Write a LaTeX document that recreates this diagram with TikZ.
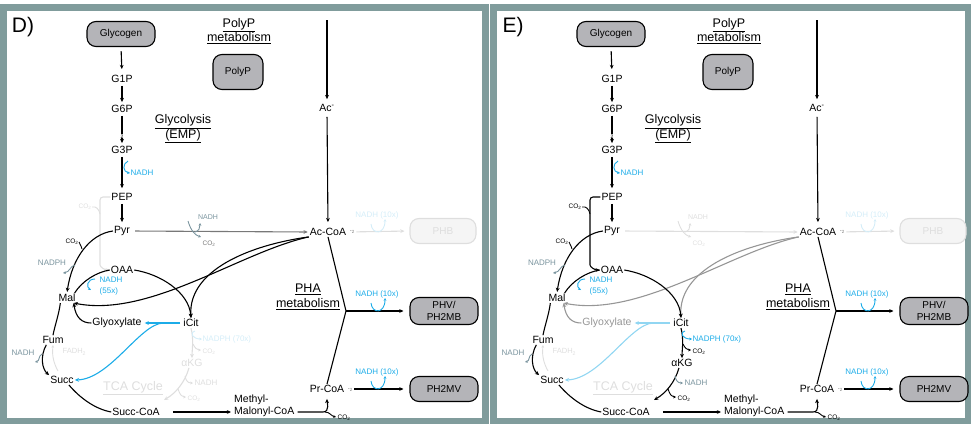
\documentclass[tikz,border=0pt]{standalone}
\usepackage{fontspec}
\setmainfont{Liberation Sans}
\usetikzlibrary{arrows.meta}

\definecolor{framecol}{RGB}{128,156,156}
\definecolor{boxfill}{RGB}{180,180,184}
\definecolor{cyanblue}{RGB}{28,172,232}
\definecolor{paleblue}{RGB}{145,214,242}
\definecolor{fadeblue}{RGB}{212,237,248}
\definecolor{fade}{RGB}{222,222,222}
\definecolor{slate}{RGB}{122,148,158}
\definecolor{midgrey}{RGB}{120,120,120}
\definecolor{shuntgrey}{RGB}{150,150,150}

\newcommand\setfs[1]{\fontsize{#1}{#1}\selectfont}
\newcommand\cotwo{CO\textsubscript{2}}
\newcommand\twofold{{\setfs{6}-\raisebox{-1pt}{\setfs{4.5}2}}}

\tikzset{
  met/.style={inner sep=1pt, font=\setfs{10.5}},
  pool/.style={draw=black, line width=1.1pt, fill=boxfill, rounded corners=9pt,
    font=\fontsize{10}{12}\selectfont, align=center, inner sep=0pt},
  ghostpool/.style={pool, draw=fade, fill=black!4, text=fade},
  hdr/.style={font=\fontsize{12.5}{14.5}\selectfont, align=center, inner sep=0pt},
  cof/.style={font=\fontsize{8}{10.5}\selectfont, inner sep=0.5pt},
  gas/.style={font=\setfs{6.5}, inner sep=0.5pt},
  stoich/.style={font=\setfs{5}, inner sep=0.3pt},
  flux/.style={line width=1.1pt},
  side/.style={line width=0.9pt},
  tip/.style={-{Stealth[length=4.2pt,width=3.8pt]}},
  stip/.style={-{Stealth[length=2.8pt,width=2.8pt]}},
}

% One metabolic panel; the colour of each optional route is set by the
% surrounding scope through the styles pepc, pyrac, pyracside, pyracgas,
% shunt, glyline, icd, icdcof, kgd and kgdcof.
\newcommand\pathwaypanel[1]{%
  \node[font=\setfs{21}, inner sep=0pt] (tag) at (23,27) {#1)};
  % storage pools
  \node[pool, minimum width=68pt, minimum height=25pt] (Glycogen) at (121,34) {Glycogen};
  \node[pool, minimum width=50pt, minimum height=35pt] (PolyP) at (238,72) {PolyP};
  \node[ghostpool, minimum width=66pt, minimum height=25pt] (PHB) at (443,231) {PHB};
  \node[pool, minimum width=68pt, minimum height=27pt] (PHV) at (444,311) {PHV/\\PH2MB};
  \node[pool, minimum width=68pt, minimum height=25pt] (PHtwoMV) at (444,389) {PH2MV};
  % section headings
  \node[hdr] (hPolyP) at (239,31) {\underline{PolyP}\\\underline{metabolism}};
  \node[hdr] (hGly) at (183,129) {\underline{Glycolysis}\\\underline{(EMP)}};
  \node[hdr] (hPHA) at (308,297) {\underline{PHA}\\\underline{metabolism}};
  \node[hdr, text=fade] (hTCA) at (133,388) {\underline{TCA Cycle}};
  % metabolites
  \node[met] (G1P) at (122,79) {G1P};
  \node[met] (G6P) at (122,109) {G6P};
  \node[met] (G3P) at (122,150) {G3P};
  \node[met] (PEP) at (122,197) {PEP};
  \node[met] (Pyr) at (122,231) {Pyr};
  \node[met] (OAA) at (122,270) {OAA};
  \node[met] (Mal) at (67,298) {Mal};
  \node[met] (Fum) at (53,340) {Fum};
  \node[met] (Succ) at (62,380) {Succ};
  \node[met] (SuccCoA) at (136,412) {Succ-CoA};
  \node[met] (iCit) at (191,323) {iCit};
  \node[met,icd] (aKG) at (192,363) {αKG};
  \node[met,shunt] (Glyox) at (117,323) {Glyoxylate};
  \node[met,anchor=west] (MMa) at (233,400) {Methyl-};
  \node[met,anchor=west] (MMb) at (233,412) {Malonyl-CoA};
  \node[met] (Ac) at (327,108) {Ac\textsuperscript{-}};
  \node[met] (AcCoA) at (328,232) {Ac-CoA};
  \node[met] (PrCoA) at (327,389) {Pr-CoA};
  % free ends and branch points
  \coordinate (AcTop) at (327,20);
  \coordinate (J) at (346,311);
  \coordinate (glyfork) at (163,323);
  \coordinate (kgEnd) at (164,400);

  % faint or optional routes first, so solid routes lie on top
  \draw[flux,pepc,tip,rounded corners=3pt] (PEP.west) -- (100,197) -- (100,262) to[out=-90,in=180] (OAA.west);
  \node[gas,pepc] (co2PEPC) at (85,207) {\cotwo};
  \draw[side,pepc] (co2PEPC.east) .. controls (96,206) and (99,209) .. (100,214);

  \draw[flux,pyrac,tip,shorten <=4pt,shorten >=1pt] (Pyr.east) -- (AcCoA.west);
  \draw[side,pyracside,stip] (188,221) .. controls (191,231) and (195,235) .. (201,237);
  \draw[side,pyracside,stip] (195,232) .. controls (199,231) and (200,228) .. (200,223);
  \node[cof,pyracside,font=\setfs{7}] (nadhPDH) at (208,217) {NADH};
  \node[gas,pyracgas] (co2PDH) at (209,244) {\cotwo};

  \node[stoich,midgrey] (stAc) at (352,232) {\twofold};
  \draw[flux,fade,tip,shorten <=9pt,shorten >=5pt] (AcCoA.east) -- (PHB.west);
  \draw[side,fadeblue,stip] (371,224) .. controls (372,235) and (385,235) .. (385,219);
  \node[cof,fadeblue] (nadhPHB) at (377,215) {NADH (10x)};

  \draw[flux,shunt,tip] (AcCoA.south west) .. controls (250,245) and (188,270) .. (iCit.north);
  \draw[flux,shunt,tip] (AcCoA.south west) .. controls (240,252) and (150,318) .. ([xshift=-3pt]Mal.south east);
  \draw[flux,shunt,tip] (Glyox.west) .. controls (82,323) and (76,318) .. ([xshift=-3pt]Mal.south east);

  \draw[flux,icd,tip] (iCit.south) .. controls (194,340) and (192,350) .. (aKG.north);
  \draw[side,icdcof,stip] (195,331) .. controls (189,333) and (193,339) .. (202,339);
  \node[cof,icdcof,anchor=west] (nadphICD) at (202,339) {NADPH (70x)};
  \draw[side,icd,stip] (193,344) .. controls (195,348) and (197,350) .. (201,350);
  \node[gas,icd,anchor=west] (co2ICD) at (202,352) {\cotwo};

  \draw[flux,kgd,tip] ([xshift=-3pt]aKG.south) .. controls (185,382) and (176,393) .. (kgEnd);
  \draw[side,kgdcof,stip] (185,376) .. controls (186,381) and (188,383) .. (193,383);
  \node[cof,kgdcof,anchor=west] (nadhKGD) at (194,383) {NADH};
  \draw[side,kgd,stip] (178,389) .. controls (180,395) and (182,397) .. (186,397);
  \node[gas,kgd,anchor=west] (co2KGD) at (187,399) {\cotwo};

  % glycolysis
  \draw[flux,tip,shorten <=4pt,shorten >=5pt] (Glycogen.south) -- (G1P.north);
  \draw[flux,tip,shorten <=2pt,shorten >=2pt] (G1P.south) -- (G6P.north);
  \draw[flux,tip,shorten <=2pt,shorten >=2pt] (G6P.south) -- node[stoich,pos=0.72,fill=white] (stG3P) {2} (G3P.north);
  \draw[flux,tip,shorten <=2pt,shorten >=4pt] (G3P.south) -- (PEP.north);
  \draw[side,cyanblue,stip] (128,161) .. controls (122,164) and (123,172) .. (130,173);
  \node[cof,cyanblue,anchor=west] (nadhEMP) at (130,173) {NADH};
  \draw[flux,tip,shorten <=2pt,shorten >=3pt] (PEP.south) -- (Pyr.north);

  % anaplerosis around pyruvate
  \draw[flux,tip,shorten >=1pt] (Pyr.west) .. controls (90,234) and (72,258) .. (Mal.north);
  \node[gas] (co2PC) at (72,242) {\cotwo};
  \draw[side] (co2PC.east) .. controls (79,243) and (81,245) .. (82,249);
  \draw[side,slate,stip] (75,265) .. controls (70,266) and (70,272) .. (63,273);
  \node[cof,slate] (nadphME) at (52,263) {NADPH};

  % TCA cycle and glyoxylate shunt
  \draw[flux] (OAA.west) .. controls (97,272) and (82,281) .. ([xshift=-2pt]Mal.north east);
  \draw[side,cyanblue,stip] (95,279) .. controls (87,279) and (86,287) .. (91,290);
  \node[cof,cyanblue,anchor=west,align=left] (nadhMDH) at (99,286) {NADH\\(55x)};
  \draw[flux,tip] (OAA.east) .. controls (160,274) and (189,292) .. (iCit.north);
  \draw[flux,glyline,tip,shorten <=2pt,shorten >=2pt] (iCit.west) -- (Glyox.east);
  \draw[flux,glyline,tip] (glyfork) .. controls (140,324) and (110,379) .. (Succ.east);
  \draw[flux] ([xshift=3pt]Mal.south west) .. controls (59,314) and (55,325) .. (Fum.north);
  \draw[side,fade,stip] (58,371) .. controls (53,362) and (52,354) .. (53,345);
  \node[gas,fade,anchor=west,font=\setfs{7.5}] (fadh) at (62,352) {FADH\textsubscript{2}};
  \draw[flux,tip] ([xshift=5pt]Fum.south west) .. controls (40,356) and (42,369) .. (Succ.north west);
  \draw[side,slate,stip] (42,354) .. controls (38,356) and (40,361) .. (35,362);
  \node[cof,slate] (nadhFum) at (23,353) {NADH};
  \draw[flux] ([xshift=-6pt]Succ.south east) .. controls (80,398) and (95,409) .. (SuccCoA.west);
  \draw[flux,tip,shorten <=12pt,shorten >=2pt] (SuccCoA.east) -- (MMb.west);

  % propionyl-CoA supply
  \draw[flux,tip,shorten <=2pt,shorten >=5pt] (MMb.east) -- (323,412) to[out=0,in=-90] (PrCoA.south);
  \draw[side,stip] (325,412) .. controls (330,412) and (331,416) .. (336,417);
  \node[gas,anchor=west] (co2MM) at (337,418) {\cotwo};

  % acetate uptake and PHA synthesis
  \draw[flux,tip,shorten >=4pt] (AcTop) -- (Ac.north);
  \draw[flux,tip,shorten <=4pt,shorten >=5pt] (Ac.south) -- (AcCoA.north);
  \draw[flux] (AcCoA.south) -- (J) -- (PrCoA.north);
  \draw[flux,tip,shorten >=6pt] (J) -- (PHV.west);
  \draw[side,cyanblue,stip] (371,303) .. controls (372,314) and (385,314) .. (385,298);
  \node[cof,cyanblue] (nadhPHV) at (377,294) {NADH (10x)};
  \node[stoich,midgrey] (stPr) at (350,390) {\twofold};
  \draw[flux,tip,shorten <=9pt,shorten >=6pt] (PrCoA.east) -- (PHtwoMV.west);
  \draw[side,cyanblue,stip] (371,381) .. controls (372,392) and (385,392) .. (385,376);
  \node[cof,cyanblue] (nadhPH2MV) at (377,372) {NADH (10x)};
}

\begin{document}
\begin{tikzpicture}[x=1pt,y=-1pt]
  \useasboundingbox (0,0) rectangle (971,431);
  % panel frames
  \draw[framecol, line width=6.5pt] (3.25,7.5) rectangle (485.5,421);
  \draw[framecol, line width=6.5pt] (493.25,7.5) rectangle (967.75,421);

  \begin{scope}[name prefix=D-,
    pepc/.style={color=fade},
    pyrac/.style={color=midgrey},
    pyracside/.style={color=slate},
    pyracgas/.style={color=midgrey},
    shunt/.style={color=black},
    glyline/.style={color=cyanblue},
    icd/.style={color=fade},
    icdcof/.style={color=fadeblue},
    kgd/.style={color=fade},
    kgdcof/.style={color=fade}]
    \pathwaypanel{D}
  \end{scope}

  \begin{scope}[xshift=490pt, name prefix=E-,
    pepc/.style={color=black},
    pyrac/.style={color=fade},
    pyracside/.style={color=fade},
    pyracgas/.style={color=fade},
    shunt/.style={color=shuntgrey},
    glyline/.style={color=paleblue},
    icd/.style={color=black},
    icdcof/.style={color=cyanblue},
    kgd/.style={color=black},
    kgdcof/.style={color=slate}]
    \pathwaypanel{E}
  \end{scope}
\end{tikzpicture}
\end{document}
